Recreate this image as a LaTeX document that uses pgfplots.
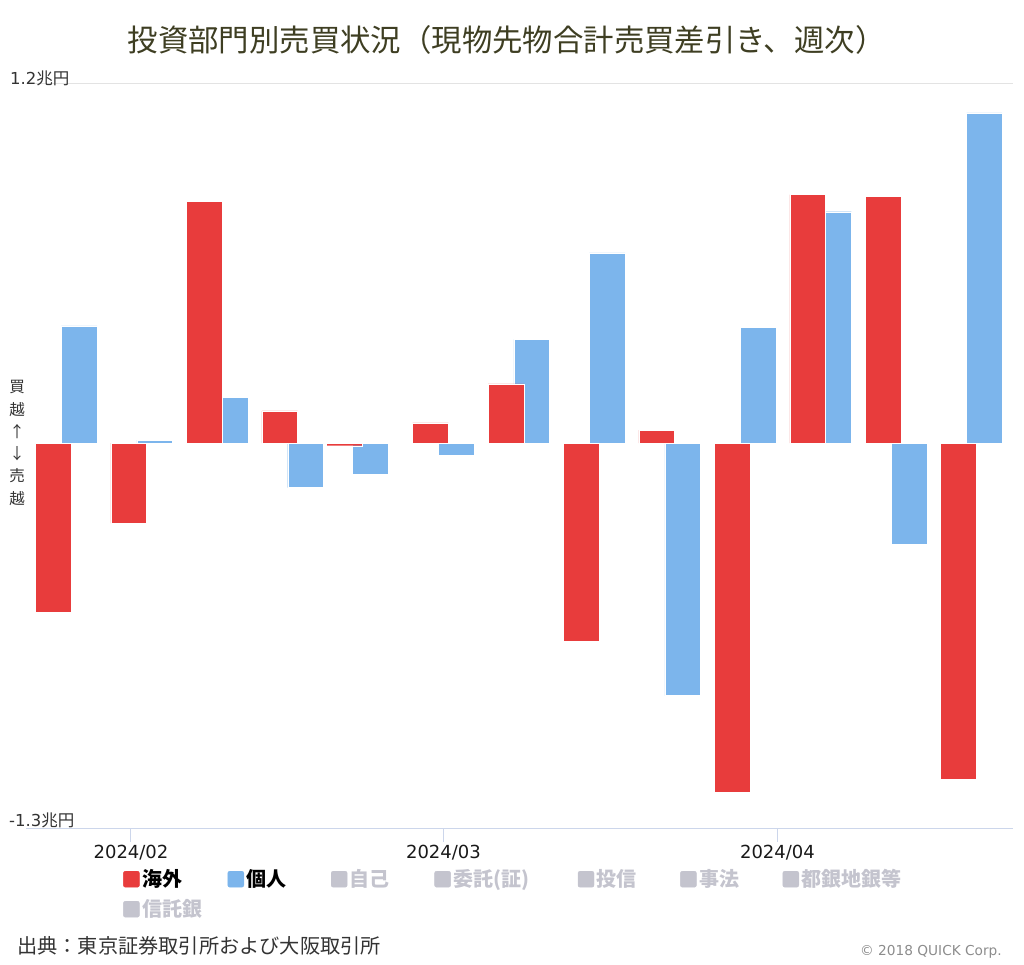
\documentclass[border=0pt]{standalone}
\usepackage{fontspec}
\setmainfont{Noto Sans CJK JP}
\newfontfamily\dejavu{DejaVu Sans}
\usepackage{pgfplots}
\pgfplotsset{compat=1.18}
\definecolor{cred}{RGB}{232,60,60}
\definecolor{cblue}{RGB}{124,181,236}
\definecolor{cgrey}{RGB}{196,196,206}
\definecolor{caxis}{RGB}{204,214,235}
\definecolor{ctitle}{RGB}{62,62,34}
\definecolor{ctext}{RGB}{51,51,51}
\begin{document}
\begin{tikzpicture}
\useasboundingbox (0,0) rectangle (1024pt,964pt);
\begin{axis}[
  at={(26pt,136pt)}, anchor=south west,
  scale only axis, width=987pt, height=744.5pt,
  xmin=21.255, xmax=112.86, ymin=-1.285, ymax=1.2,
  clip=false,
  axis x line*=bottom, axis y line=none,
  x axis line style={draw=caxis, line width=1pt},
  xtick={31,60,91}, xticklabels={2024/02,2024/03,2024/04},
  xtick align=outside, major tick length=14pt,
  xtick style={draw=caxis, line width=1pt},
  xticklabel style={font=\dejavu\fontsize{18}{18}\selectfont, text=black!90},
  ytick=\empty,
  extra y ticks={0}, extra y tick labels={},
  extra y tick style={grid=major, grid style={draw=black!13, line width=1.6pt}, ytick style={draw=none}},
  legend columns=7,
  legend cell align=left,
  legend style={at={(axis description cs:0.09828,-0.04835)}, anchor=north west,
    draw=none, fill=none, inner sep=0pt, row sep=0pt,
    nodes={inner sep=0pt, text depth=8pt, text height=22pt},
    /tikz/every even column/.style={column sep=0pt},
    /tikz/every odd column/.style={column sep=0pt},
    font=\bfseries\fontsize{20}{20}\selectfont},
]
\draw[black!11, line width=1.2pt] (axis cs:21.255,1.2) -- (axis cs:112.86,1.2);
\addlegendimage{legend image code/.code={\fill[cred, rounded corners=2pt] (0pt,-8pt) rectangle (16pt,8pt);}}
\addlegendentry{\makebox[88pt][l]{\hspace{2.5pt}\textcolor{black}{海外}}}
\addlegendimage{legend image code/.code={\fill[cblue, rounded corners=2pt] (0pt,-8pt) rectangle (16pt,8pt);}}
\addlegendentry{\makebox[87pt][l]{\hspace{2.5pt}\textcolor{black}{個人}}}
\addlegendimage{legend image code/.code={\fill[cgrey, rounded corners=2pt] (0pt,-8pt) rectangle (16pt,8pt);}}
\addlegendentry{\makebox[87pt][l]{\hspace{2.5pt}\textcolor{cgrey}{自己}}}
\addlegendimage{legend image code/.code={\fill[cgrey, rounded corners=2pt] (0pt,-8pt) rectangle (16pt,8pt);}}
\addlegendentry{\makebox[127pt][l]{\hspace{2.5pt}\textcolor{cgrey}{委託(証)}}}
\addlegendimage{legend image code/.code={\fill[cgrey, rounded corners=2pt] (0pt,-8pt) rectangle (16pt,8pt);}}
\addlegendentry{\makebox[86pt][l]{\hspace{2.5pt}\textcolor{cgrey}{投信}}}
\addlegendimage{legend image code/.code={\fill[cgrey, rounded corners=2pt] (0pt,-8pt) rectangle (16pt,8pt);}}
\addlegendentry{\makebox[86pt][l]{\hspace{2.5pt}\textcolor{cgrey}{事法}}}
\addlegendimage{legend image code/.code={\fill[cgrey, rounded corners=2pt] (0pt,-8pt) rectangle (16pt,8pt);}}
\addlegendentry{\makebox[110pt][l]{\hspace{2.5pt}\textcolor{cgrey}{都銀地銀等}}}
\addlegendimage{legend image code/.code={\fill[cgrey, rounded corners=2pt] (0pt,-8pt) rectangle (16pt,8pt);}}
\addlegendentry{\makebox[88pt][l]{\hspace{2.5pt}\textcolor{cgrey}{信託銀}}}
% 個人 (blue) drawn first
\addplot[ybar, bar width=3.313, bar shift=0pt, fill=cblue, draw=white, line width=0.4pt, forget plot]
  coordinates {(26.2,0.391) (33.2,0.010) (40.2,0.153) (47.2,-0.149) (53.2,-0.103) (61.2,-0.041) (68.2,0.346) (75.2,0.635) (82.2,-0.843) (89.2,0.385) (96.2,0.772) (103.2,-0.337) (110.2,1.102)};
% 海外 (red)
\addplot[ybar, bar width=3.313, bar shift=0pt, fill=cred, draw=white, line width=0.4pt, forget plot]
  coordinates {(23.8,-0.565) (30.8,-0.268) (37.8,0.807) (44.8,0.107) (50.8,-0.009) (58.8,0.067) (65.8,0.197) (72.8,-0.662) (79.8,0.043) (86.8,-1.167) (93.8,0.829) (100.8,0.823) (107.8,-1.122)};
\end{axis}
% title
\node[anchor=west, inner sep=0pt, text=ctitle, font=\fontsize{30.4}{30.4}\selectfont] at (127.5pt,924pt) {投資部門別売買状況（現物先物合計売買差引き、週次）};
% y labels
\node[anchor=base west, inner sep=0pt, text=ctext, font=\fontsize{16.5}{16.5}\selectfont] at (10pt,879pt) {{\dejavu 1.2}兆円};
\node[anchor=base west, inner sep=0pt, text=ctext, font=\fontsize{16.5}{16.5}\selectfont] at (9pt,138pt) {{\dejavu -1.3}兆円};
\node[align=center, inner sep=0pt, text=ctext, font=\fontsize{15.5}{22.3}\selectfont] at (17pt,521pt) {買\\越\\↑\\↓\\売\\越};
% footer
\node[anchor=west, inner sep=0pt, text=ctext, font=\fontsize{20.2}{20.2}\selectfont] at (17pt,18pt) {出典：東京証券取引所および大阪取引所};
\node[anchor=east, inner sep=0pt, text=black!45, font=\dejavu\fontsize{13.7}{13.7}\selectfont] at (1002pt,12pt) {© 2018 QUICK Corp.};
\end{tikzpicture}
\end{document}
